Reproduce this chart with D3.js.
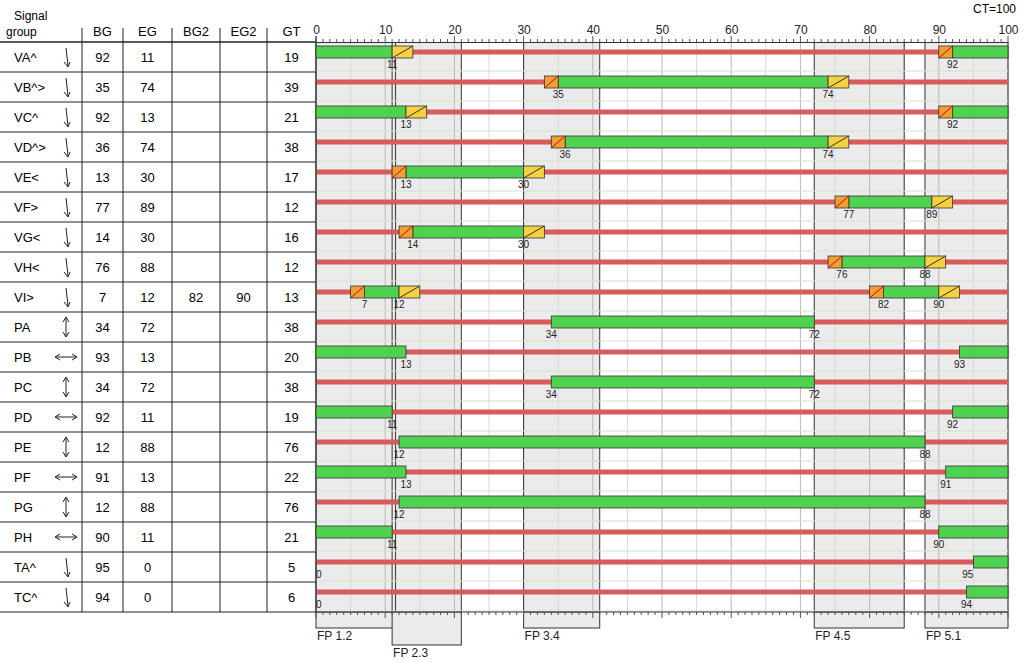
<!DOCTYPE html>
<html><head><meta charset="utf-8">
<script src="https://cdn.jsdelivr.net/npm/d3@7"></script>
<style>body{margin:0;background:#fff}text{font-family:Arial,"Liberation Sans",sans-serif}</style>
</head><body><svg id="c"></svg>
<script>
const groups = ["VA^","VB^>","VC^","VD^>","VE<","VF>","VG<","VH<","VI>","PA","PB","PC","PD","PE","PF","PG","PH","TA^","TC^"];
const bg  = [92,35,92,36,13,77,14,76,7,34,93,34,92,12,91,12,90,95,94];
const eg  = [11,74,13,74,30,89,30,88,12,72,13,72,11,88,13,88,11,0,0];
const bg2 = [null,null,null,null,null,null,null,null,82,null,null,null,null,null,null,null,null,null,null];
const eg2 = [null,null,null,null,null,null,null,null,90,null,null,null,null,null,null,null,null,null,null];
const gt  = [19,39,21,38,17,12,16,12,13,38,20,38,19,76,22,76,21,5,6];
const vehicle = [1,1,1,1,1,1,1,1,1,0,0,0,0,0,0,0,0,0,0];
const phases = [["FP 1.2",0,11.5,0],["FP 2.3",11,21,1],["FP 3.4",30,41,0],["FP 4.5",72,85,0],["FP 5.1",88,100,0]];
const CT = 100;

const W=1024,H=662, topY=42, rowH=30, left=316, right=1008;
const svg=d3.select("#c").attr("width",W).attr("height",H);
const x=d3.scaleLinear().domain([0,CT]).range([left,right]);
const y=d3.scaleBand().domain(groups).range([topY,topY+rowH*groups.length]);
const bottom=topY+rowH*groups.length;

// phase shading
phases.forEach(p=>{
  svg.append("rect").attr("x",x(p[1])).attr("y",topY).attr("width",x(p[2])-x(p[1])).attr("height",bottom-topY).attr("fill","#ebebeb");
  const d = p[3]?33:16;
  svg.append("rect").attr("x",x(p[1])).attr("y",bottom).attr("width",x(p[2])-x(p[1])).attr("height",d).attr("fill","#ebebeb").attr("stroke","#333");
  svg.append("text").attr("x",x(p[1])+1).attr("y",bottom+d+12).attr("font-size",12).attr("fill","#222").text(p[0]);
});
// grid
d3.range(0,101,5).forEach(v=>svg.append("line").attr("x1",x(v)).attr("x2",x(v)).attr("y1",topY).attr("y2",bottom).attr("stroke",v%10?"#d8d8d8":"#b8b8b8"));
phases.forEach(p=>[p[1],p[2]].forEach(v=>svg.append("line").attr("x1",x(v)).attr("x2",x(v)).attr("y1",topY).attr("y2",bottom).attr("stroke","#333")));
groups.forEach(g=>svg.append("line").attr("x1",left).attr("x2",right).attr("y1",y(g)+rowH-1).attr("y2",y(g)+rowH-1).attr("stroke","#cfe3cf"));

// axes
svg.append("g").attr("transform",`translate(0,${topY})`).call(d3.axisTop(x).ticks(10).tickSize(0).tickPadding(8)).call(g=>{g.select(".domain").attr("stroke","#333");g.selectAll("text").attr("font-size",12).attr("fill","#222")});
d3.range(0,101,1).forEach(v=>{
  const l=v%10?3:6;
  svg.append("line").attr("x1",x(v)).attr("x2",x(v)).attr("y1",topY).attr("y2",topY-l).attr("stroke","#555");
  svg.append("line").attr("x1",x(v)).attr("x2",x(v)).attr("y1",bottom).attr("y2",bottom+l).attr("stroke","#555");
});
svg.append("line").attr("x1",left).attr("x2",right).attr("y1",bottom).attr("y2",bottom).attr("stroke","#333");
svg.append("line").attr("x1",left).attr("x2",left).attr("y1",topY-6).attr("y2",bottom).attr("stroke","#333");
svg.append("text").attr("x",1016).attr("y",13).attr("text-anchor","end").attr("font-size",12).text("CT="+CT);

// bars
function green(a,b,cy){
  const segs = b>=a ? [[a,b]] : [[a,CT],[0,b]];
  segs.forEach(s=>svg.append("rect").attr("x",x(s[0])).attr("y",cy-6).attr("width",x(s[1])-x(s[0])).attr("height",12).attr("fill","#4fd24f").attr("stroke","#333").attr("stroke-width",0.8));
}
function box(a,b,cy,fill,diagColor){
  svg.append("rect").attr("x",x(a)).attr("y",cy-6).attr("width",x(b)-x(a)).attr("height",12).attr("fill",fill).attr("stroke","#333").attr("stroke-width",0.8);
  svg.append("line").attr("x1",x(a)).attr("y1",cy+6).attr("x2",x(b)).attr("y2",cy-6).attr("stroke",diagColor);
}
function lab(v,cy,anchor){
  svg.append("text").attr("x",x(v)).attr("y",cy+16).attr("text-anchor",anchor).attr("font-size",10).attr("fill","#222").text(v);
}
groups.forEach((g,i)=>{
  const cy=y(g)+10;
  svg.append("line").attr("x1",left+1).attr("x2",right).attr("y1",cy).attr("y2",cy).attr("stroke","#d85c5c").attr("stroke-width",5);
  const pairs=[[bg[i],eg[i]]]; if(bg2[i]!=null) pairs.push([bg2[i],eg2[i]]);
  pairs.forEach(([a,b])=>{
    green(a,b,cy);
    if(vehicle[i]){box(a-2,a,cy,"#f0a030","#c00");box(b,b+3,cy,"#f5d040","#333");}
    lab(a,cy,a>=95?"end":"middle");
    lab(b,cy,b===0?"start":"middle");
  });
});

// table
const cols=[0,82,123,172,220,267,316];
const heads=["BG","EG","BG2","EG2","GT"];
svg.append("text").attr("x",14).attr("y",20).attr("font-size",12).text("Signal");
svg.append("text").attr("x",6).attr("y",36).attr("font-size",12).text("group");
heads.forEach((h,k)=>svg.append("text").attr("x",(cols[k+1]+cols[k+2])/2).attr("y",36).attr("text-anchor","middle").attr("font-size",13).text(h));
cols.slice(1,6).forEach(c=>svg.append("line").attr("x1",c).attr("x2",c).attr("y1",28).attr("y2",bottom).attr("stroke","#222"));
svg.append("line").attr("x1",0).attr("x2",left).attr("y1",topY).attr("y2",topY).attr("stroke","#222").attr("stroke-width",1.5);
groups.forEach((g,i)=>{
  const r=y(g), cy=r+rowH/2;
  svg.append("line").attr("x1",0).attr("x2",left).attr("y1",r+rowH).attr("y2",r+rowH).attr("stroke","#222");
  svg.append("text").attr("x",14).attr("y",cy+5).attr("font-size",13).text(g);
  [bg[i],eg[i],bg2[i],eg2[i],gt[i]].forEach((v,k)=>{
    if(v!=null) svg.append("text").attr("x",(cols[k+1]+cols[k+2])/2).attr("y",cy+5).attr("text-anchor","middle").attr("font-size",13).text(v);
  });
  const ix=66, ic=svg.append("g").attr("stroke","#222").attr("fill","none");
  if(vehicle[i]||g.startsWith("T")){
    ic.append("line").attr("x1",ix).attr("y1",r+6).attr("x2",ix+2).attr("y2",r+24);
    ic.append("path").attr("d",`M${ix-2},${r+20} L${ix+2},${r+25} L${ix+4},${r+20}`);
  } else if(i%2){
    ic.append("line").attr("x1",ix).attr("y1",r+6).attr("x2",ix).attr("y2",r+24);
    ic.append("path").attr("d",`M${ix-3},${r+10} L${ix},${r+5} L${ix+3},${r+10} M${ix-3},${r+20} L${ix},${r+25} L${ix+3},${r+20}`);
  } else {
    ic.append("line").attr("x1",ix-10).attr("y1",cy).attr("x2",ix+10).attr("y2",cy);
    ic.append("path").attr("d",`M${ix-6},${cy-3} L${ix-11},${cy} L${ix-6},${cy+3} M${ix+6},${cy-3} L${ix+11},${cy} L${ix+6},${cy+3}`);
  }
});
</script></body></html>
